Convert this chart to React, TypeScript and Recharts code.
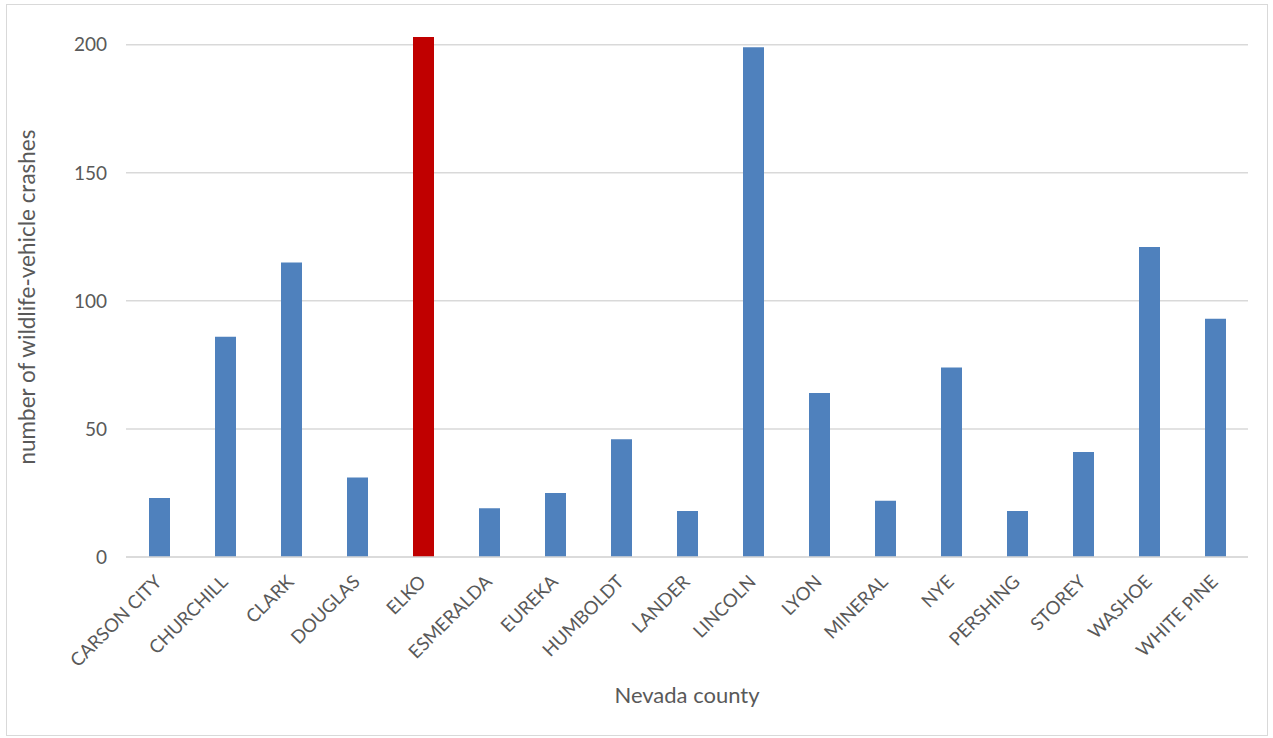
import { BarChart, Bar, XAxis, YAxis, CartesianGrid, Cell } from "recharts";

const counties = [
  "CARSON CITY", "CHURCHILL", "CLARK", "DOUGLAS", "ELKO", "ESMERALDA", "EUREKA",
  "HUMBOLDT", "LANDER", "LINCOLN", "LYON", "MINERAL", "NYE", "PERSHING",
  "STOREY", "WASHOE", "WHITE PINE",
];
const crashes = [23, 86, 115, 31, 203, 19, 25, 46, 18, 199, 64, 22, 74, 18, 41, 121, 93];
const yTicks = [0, 50, 100, 150, 200];
const highlighted = "ELKO";

const data = counties.map((county, i) => ({ county, crashes: crashes[i] }));
const yMax = Math.max(...crashes);

const FONT = "Lato, 'Open Sans', sans-serif";
const TEXT = "#595959";
const GRID = "#d9d9d9";

function CountyTick({ x, y, payload }: any) {
  return (
    <g transform={`translate(${x + 4},${y + 18})`}>
      <text
        textAnchor="end"
        transform="rotate(-45)"
        fill={TEXT}
        fontSize={18.5}
        fontFamily={FONT}
      >
        {payload.value}
      </text>
    </g>
  );
}

// gridlines only at the labelled ticks, not at the top edge of the plot
const gridRows = ({ offset }: any) =>
  offset ? yTicks.map((t) => offset.top + offset.height * (1 - t / yMax)) : [];

export default function App() {
  return (
    <div
      style={{
        position: "absolute",
        left: 6,
        top: 4,
        width: 1260,
        height: 730,
        border: "1px solid #d9d9d9",
        background: "#fff",
      }}
    >
      <BarChart
        width={1260}
        height={730}
        data={data}
        margin={{ top: 32, right: 19, bottom: 28, left: 0 }}
      >
        <CartesianGrid
          vertical={false}
          stroke={GRID}
          strokeWidth={1.5}
          horizontalCoordinatesGenerator={gridRows}
        />
        <XAxis
          dataKey="county"
          interval={0}
          height={150}
          tickLine={false}
          axisLine={{ stroke: GRID, strokeWidth: 1.5 }}
          tick={<CountyTick />}
          label={{
            value: "Nevada county",
            position: "insideBottom",
            offset: 4,
            fill: TEXT,
            fontSize: 22,
            fontFamily: FONT,
          }}
        />
        <YAxis
          width={119}
          domain={[0, yMax]}
          ticks={yTicks}
          axisLine={false}
          tickLine={false}
          tickSize={0}
          tickMargin={19}
          tick={{ fill: TEXT, fontSize: 19, fontFamily: FONT }}
          label={{
            value: "number of wildlife-vehicle crashes",
            angle: -90,
            position: "insideLeft",
            offset: 20,
            fill: TEXT,
            fontSize: 22.5,
            fontFamily: FONT,
            style: { textAnchor: "middle" },
          }}
        />
        <Bar dataKey="crashes" barSize={21} isAnimationActive={false}>
          {data.map((d) => (
            <Cell key={d.county} fill={d.county === highlighted ? "#c00000" : "#4f81bd"} />
          ))}
        </Bar>
      </BarChart>
    </div>
  );
}
